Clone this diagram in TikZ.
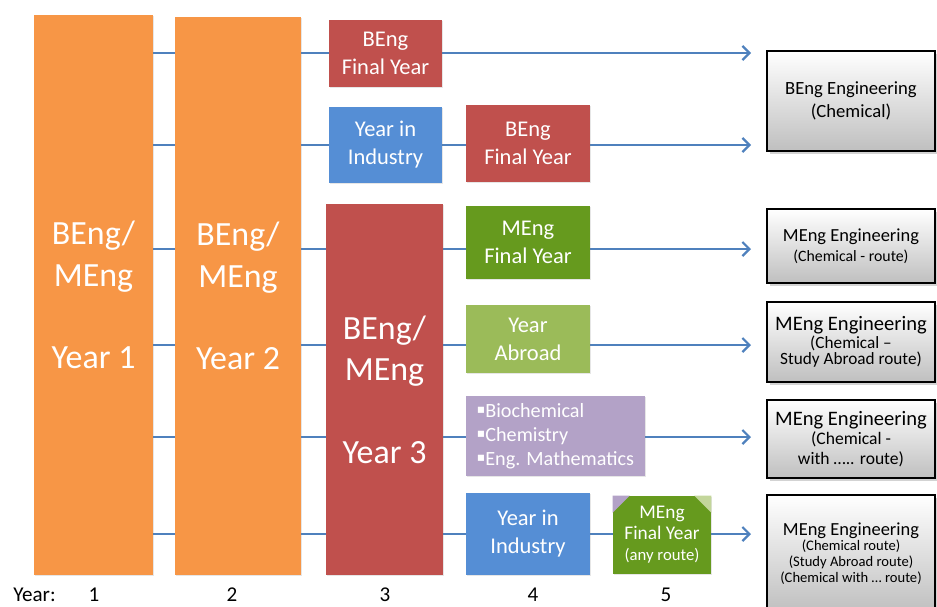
\documentclass[tikz,border=0pt]{standalone}
\usepackage{fontspec}
\setmainfont{Carlito}
\newfontfamily\symbfont{DejaVu Sans}
\usepackage{xcolor}
\usepackage{tikz}
\usetikzlibrary{arrows.meta,shadows,backgrounds,positioning}

\definecolor{yrorange}{HTML}{F79646}
\definecolor{yrred}{HTML}{C0504D}
\definecolor{yrblue}{HTML}{558ED5}
\definecolor{yrgreen}{HTML}{669A1E}
\definecolor{yrlime}{HTML}{9BBB59}
\definecolor{yrpurple}{HTML}{B3A2C7}
\definecolor{yrpale}{HTML}{C3D69B}
\definecolor{routeblue}{HTML}{4F81BD}

\newcommand{\bigtxt}{\fontsize{19.3}{23.5}\selectfont}
\newcommand{\midtxt}{\fontsize{12.8}{15.9}\selectfont}
\newcommand{\sq}{\raisebox{0.4ex}{\symbfont\fontsize{7}{7}\selectfont ▪}}

\begin{document}
\begin{tikzpicture}[x=0.02cm,y=-0.02cm,
    block/.style={rectangle, fill=#1, text=white, align=center, inner sep=0pt,
        font=\midtxt, drop shadow={shadow xshift=0.8pt, shadow yshift=-0.8pt, opacity=0.2}},
    degree/.style={rectangle, draw=black, line width=1.6pt, top color=white, bottom color=black!25,
        align=center, inner sep=0pt, minimum width=3.36cm,
        drop shadow={shadow xshift=1.5pt, shadow yshift=-1.5pt, opacity=0.35}},
    route/.style={draw=routeblue, line width=1.3pt, -{Straight Barb[length=4pt,width=8pt]}}]

    \useasboundingbox (0,0) rectangle (937,606);
    \clip (0,0) rectangle (937,606);

    % Years 1 and 2
    \node[block=yrorange, minimum width=2.38cm, minimum height=11.2cm, font=\bigtxt] (bar1) at (93.5,295) {BEng/\\MEng\\[23.5pt]Year 1};
    \node[block=yrorange, minimum width=2.52cm, minimum height=11.16cm, font=\bigtxt] (bar2) at (238,296) {BEng/\\MEng\\[23.5pt]Year 2};

    % Year 3
    \node[block=yrred, minimum width=2.26cm, minimum height=1.34cm, text depth=0pt] (bfy3) at (385.5,53.5) {BEng\\Final Year};
    \node[block=yrblue, minimum width=2.26cm, minimum height=1.52cm] (yii3) at (385.5,145) {Year in\\Industry};
    \node[block=yrred, minimum width=2.34cm, minimum height=7.42cm, font=\bigtxt] (bar3) at (384.5,389.5) {BEng/\\MEng\\[23.5pt]Year 3};

    % Year 4
    \node[block=yrred, minimum width=2.48cm, minimum height=1.54cm, text depth=0pt] (bfy4) at (528,143.5) {BEng\\Final Year};
    \node[block=yrgreen, minimum width=2.48cm, minimum height=1.46cm, text depth=0pt] (mfy4) at (528,242.5) {MEng\\Final Year};
    \node[block=yrlime, minimum width=2.48cm, minimum height=1.36cm] (abroad) at (528,339) {Year\\Abroad};
    \node[block=yrpurple, minimum width=3.58cm, minimum height=1.6cm, align=left,
        font=\fontsize{11.5}{13.6}\selectfont] (options) at (555.5,436)
        {\sq Biochemical\\\sq Chemistry\\\sq Eng. Mathematics};
    \node[block=yrblue, minimum width=2.48cm, minimum height=1.64cm] (yii4) at (528,534) {Year in\\Industry};

    % Year 5
    \node[block=yrgreen, minimum width=1.96cm, minimum height=1.56cm, font=\fontsize{11}{12}\selectfont] (mfy5) at (662,535)
        {MEng\\Final Year\\{\fontsize{9.5}{12}\selectfont (any route)}};
    \fill[yrpurple] (mfy5.north west) -- ++(17,0) -- ++(-17,17) -- cycle;
    \fill[yrpale] (mfy5.north east) -- ++(-17,0) -- ++(17,17) -- cycle;

    % Degrees
    \node[degree, minimum height=2cm, font=\fontsize{10.6}{13}\selectfont] (res1) at (851,101)
        {BEng Engineering\\(Chemical)};
    \node[degree, minimum height=1.48cm, font=\fontsize{9}{11.5}\selectfont] (res2) at (851,246)
        {{\fontsize{10.5}{12}\selectfont MEng Engineering}\\(Chemical - route)};
    \node[degree, minimum height=1.6cm, font=\fontsize{9.8}{9}\selectfont] (res3) at (851,342)
        {{\fontsize{11.7}{12}\selectfont MEng Engineering}\\(Chemical –\\Study Abroad route)};
    \node[degree, minimum height=1.56cm, font=\fontsize{10}{11.3}\selectfont] (res4) at (851,439)
        {{\fontsize{11.7}{12}\selectfont MEng Engineering}\\(Chemical -\\with ….. route)};
    \node[degree, minimum height=2.34cm, font=\fontsize{8.3}{9}\selectfont] (res5) at (851,553.5)
        {{\fontsize{10.5}{12}\selectfont MEng Engineering}\\(Chemical route)\\(Study Abroad route)\\(Chemical with … route)};

    % Routes
    \foreach \i/\y in {1/53,2/145,3/249,4/345,5/437,6/534}
        \coordinate (tip\i) at (751,\y);
    \begin{scope}[on background layer]
        \foreach \i in {1,...,6}
            \draw[route] (bar1.east |- tip\i) -- (tip\i);
    \end{scope}

    % Year numbers
    \node[anchor=base, font=\fontsize{12}{14}\selectfont] (ylabel) at (34.5,601) {Year:};
    \foreach \n/\x in {1/94,2/232,3/385,4/533,5/666}
        \node[anchor=base, font=\fontsize{12}{14}\selectfont] (yr\n) at (\x,601) {\n};
\end{tikzpicture}
\end{document}
